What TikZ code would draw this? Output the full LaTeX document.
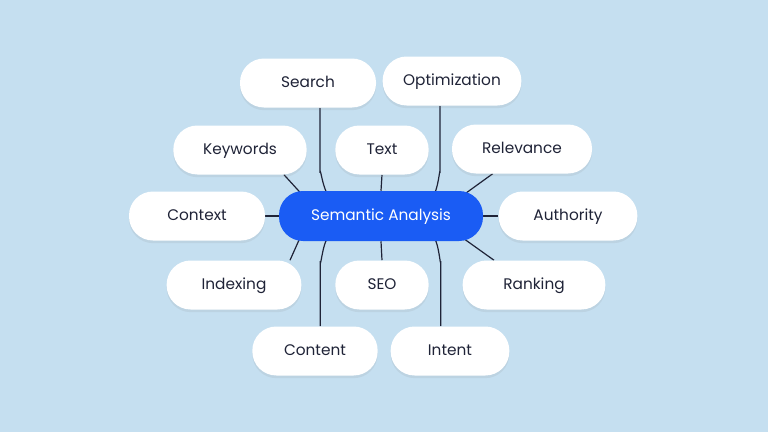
\documentclass[tikz,border=0pt]{standalone}
\usepackage{fontspec}
\setmainfont{Poppins}
\usetikzlibrary{shadows,calc}
\definecolor{bg}{HTML}{C5DFF0}
\definecolor{ink}{HTML}{1F2337}
\definecolor{sablue}{HTML}{1A5CF4}
\pgfdeclarelayer{lines}
\pgfsetlayers{lines,main}
\begin{document}
\begin{tikzpicture}[x=0.75pt,y=-0.75pt,
  pill/.style={rounded corners=18pt,fill=white,text=ink,minimum height=36.75pt,font=\fontsize{11.5}{13}\selectfont,
    text height=8.5pt,text depth=2pt,
    drop shadow={opacity=0.12,shadow xshift=0pt,shadow yshift=-2pt}},
  link/.style={draw=ink,line width=0.9pt}]
\begin{pgfonlayer}{lines}
\fill[bg] (0,0) rectangle (768,432);
\end{pgfonlayer}
\useasboundingbox (0,0) rectangle (768,432);
\node[pill,minimum width=102pt] (search) at (308,83) {Search};
\node[pill,minimum width=104pt] (opt) at (452,81) {Optimization};
\node[pill,minimum width=100pt] (key) at (240,150) {Keywords};
\node[pill,minimum width=70pt] (text) at (382,150) {Text};
\node[pill,minimum width=105pt] (rel) at (522,149) {Relevance};
\node[pill,minimum width=102pt] (ctx) at (197,216) {Context};
\node[pill,minimum width=104pt] (auth) at (568,216) {Authority};
\node[pill,minimum width=101pt] (idx) at (234,285) {Indexing};
\node[pill,minimum width=70pt] (seo) at (382,285) {SEO};
\node[pill,minimum width=107pt] (rank) at (534,285) {Ranking};
\node[pill,minimum width=94pt] (cont) at (315,351) {Content};
\node[pill,minimum width=89pt] (intent) at (450,351) {Intent};
\node[rounded corners=18pt,fill=sablue,text=white,minimum width=153pt,minimum height=37.5pt,
  text height=8.5pt,text depth=2pt,font=\fontsize{11.5}{13}\selectfont] (sa) at (381,216) {Semantic Analysis};
\begin{pgfonlayer}{lines}
\draw[link] ([xshift=9pt]search.south) -- ++(0,65) to[out=90,in=-140] ([xshift=-37pt,yshift=-3pt]sa.north);
\draw[link] ([xshift=-9pt]opt.south) -- ++(0,67) to[out=90,in=-40] ([xshift=37pt,yshift=-3pt]sa.north);
\draw[link] (text.south) -- (sa.north);
\draw[link] ([xshift=33pt]key.south) -- ([xshift=-60pt,yshift=-2pt]sa.north);
\draw[link] ([xshift=-22pt]rel.south) -- ([xshift=62pt,yshift=-3pt]sa.north);
\draw[link] (ctx.east) -- (sa.west);
\draw[link] (auth.west) -- (sa.east);
\draw[link] ([xshift=42pt]idx.north) -- ([xshift=-61pt,yshift=2pt]sa.south);
\draw[link] (seo.north) -- (sa.south);
\draw[link] ([xshift=-30pt]rank.north) -- ([xshift=62pt,yshift=2pt]sa.south);
\draw[link] ([xshift=4pt]cont.north) -- ++(0,-65) to[out=-90,in=140] ([xshift=-37pt,yshift=3pt]sa.south);
\draw[link] ([xshift=-7pt]intent.north) -- ++(0,-65) to[out=-90,in=40] ([xshift=37pt,yshift=3pt]sa.south);
\end{pgfonlayer}
\end{tikzpicture}
\end{document}
